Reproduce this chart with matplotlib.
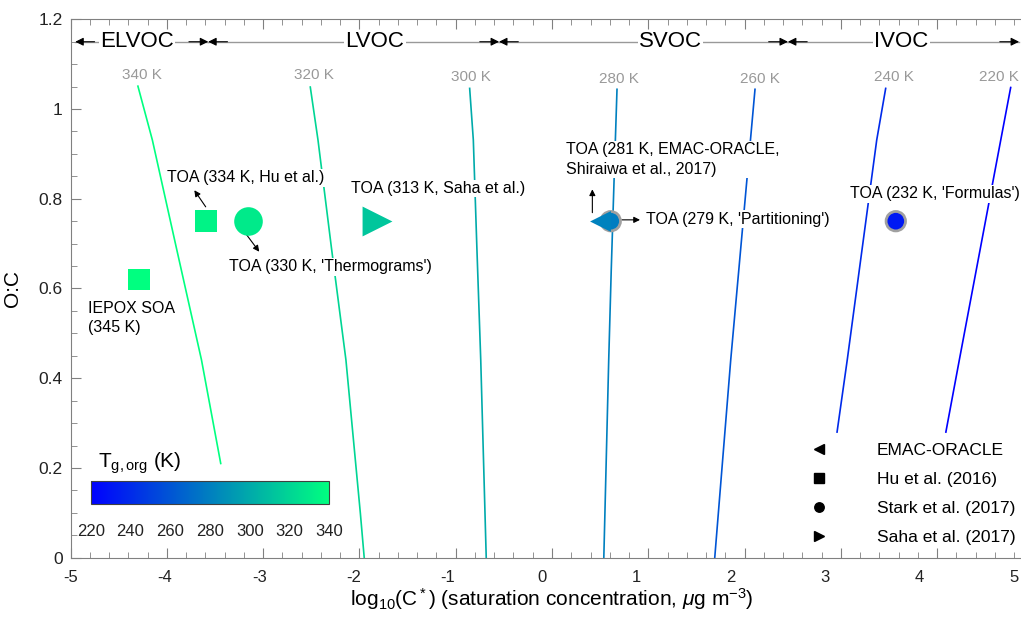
import matplotlib
matplotlib.use("Agg")
import matplotlib.pyplot as plt
import matplotlib.cm as cm
import matplotlib.colors as mcolors
from matplotlib.ticker import MultipleLocator
from matplotlib.lines import Line2D

plt.rcParams["font.family"] = ["Liberation Sans", "DejaVu Sans"]
plt.rcParams["mathtext.fontset"] = "custom"
plt.rcParams["mathtext.rm"] = "Liberation Sans"
plt.rcParams["mathtext.it"] = "Liberation Sans:italic"

# ── Data ──────────────────────────────────────────────────────────────────────

# glass-transition isotherms: (log10 C*, O:C) points
iso_temps = [340, 320, 300, 280, 260, 240, 220]
iso_x = [
    [-4.30, -4.15, -3.90, -3.64, -3.44],
    [-2.51, -2.43, -2.29, -2.14, -1.99, -1.95],
    [-0.855, -0.817, -0.78, -0.74, -0.683],
    [0.675, 0.644, 0.615, 0.589, 0.538],
    [2.108, 2.022, 1.856, 1.69],
    [3.465, 3.372, 3.066, 2.96],
    [4.763, 4.66, 4.23, 4.09],
]
iso_y = [
    [1.051, 0.931, 0.69, 0.441, 0.21],
    [1.049, 0.931, 0.69, 0.441, 0.099, 0.0],
    [1.046, 0.931, 0.69, 0.441, 0.0],
    [1.044, 0.838, 0.64, 0.441, 0.0],
    [1.044, 0.838, 0.441, 0.0],
    [1.046, 0.931, 0.441, 0.28],
    [1.048, 0.931, 0.441, 0.28],
]
iso_label_x = [-4.26, -2.47, -0.84, 0.696, 2.16, 3.55, 4.645]
iso_label_y = [1.076, 1.076, 1.071, 1.066, 1.066, 1.071, 1.071]

# volatility classes along the top
voc_names = ["ELVOC", "LVOC", "SVOC", "IVOC"]
voc_lo = [-4.95, -3.57, -0.55, 2.45]
voc_hi = [-3.57, -0.55, 2.45, 4.85]
voc_text_x = [-4.31, -1.84, 1.23, 3.63]
voc_y = 1.15

# TOA / SOA points: x, O:C, Tg (K)
sq_x, sq_y, sq_t = [-4.29, -3.59], [0.62, 0.75], [345, 334]          # Hu et al.
st_x, st_y, st_t = [-3.16], [0.75], [330]                            # Stark et al.
sa_x, sa_y, sa_t = [-1.82], [0.75], [313]                            # Saha et al.
em_x, em_y, em_t = [0.50], [0.75], [281]                             # EMAC-ORACLE
gr_x, gr_y, gr_t = [0.61, 3.57], [0.75, 0.75], [279, 232]            # this work

notes = [
    ("TOA (334 K, Hu et al.)", -4.0, 0.847),
    ("TOA (330 K, 'Thermograms')", -3.354, 0.648),
    ("TOA (313 K, Saha et al.)", -2.09, 0.823),
    ("TOA (281 K, EMAC-ORACLE,\nShiraiwa et al., 2017)", 0.145, 0.887),
    ("TOA (279 K, 'Partitioning')", 0.976, 0.754),
    ("TOA (232 K, 'Formulas')", 3.094, 0.811),
    ("IEPOX SOA\n(345 K)", -4.82, 0.534),
]
# arrows: (start x, start y) -> (end x, end y)
arrows = [
    (-3.596, 0.782, -3.714, 0.819),
    (-3.188, 0.7245, -3.04, 0.682),
    (0.419, 0.769, 0.419, 0.821),
    (0.724, 0.753, 0.914, 0.753),
]

cbar_ticks = [220, 240, 260, 280, 300, 320, 340]

# ── Figure ────────────────────────────────────────────────────────────────────

W, H = 1021, 621
fig = plt.figure(figsize=(W / 100, H / 100), dpi=100)
ax = fig.add_axes([70.5 / W, 63.3 / H, 963 / W, 538.4 / H])
cmap = plt.get_cmap("winter")
norm = mcolors.Normalize(vmin=220, vmax=340)

for T, xs, ys in zip(iso_temps, iso_x, iso_y):
    ax.plot(xs, ys, color=cmap(norm(T)), lw=1.2, zorder=1)
for T, lx, ly in zip(iso_temps, iso_label_x, iso_label_y):
    ax.text(lx, ly, f"{T} K", color="#999999", fontsize=11,
            ha="center", va="center", zorder=3)

for name, lo, hi, tx in zip(voc_names, voc_lo, voc_hi, voc_text_x):
    ax.plot([lo, hi], [voc_y, voc_y], color="#999999", lw=1, zorder=1)
    for tip, back in ((lo, lo + 0.2), (hi, hi - 0.2)):
        ax.annotate("", xy=(tip, voc_y), xytext=(back, voc_y),
                    arrowprops=dict(arrowstyle="-|>", color="black", lw=0.8,
                                    mutation_scale=12, shrinkA=0, shrinkB=0),
                    zorder=2)
    ax.text(tx, voc_y, name, fontsize=16, ha="center", va="center",
            bbox=dict(fc="white", ec="none", pad=1), zorder=3)

for text, tx, ty in notes:
    ax.text(tx, ty, text, fontsize=11.5, ha="left", va="center", linespacing=1.38,
            bbox=dict(fc="white", ec="none", pad=1), zorder=3)
for x0, y0, x1, y1 in arrows:
    ax.annotate("", xy=(x1, y1), xytext=(x0, y0),
                arrowprops=dict(arrowstyle="-|>", color="black", lw=0.8,
                                mutation_scale=9, shrinkA=0, shrinkB=0),
                zorder=4)

kw = dict(cmap=cmap, norm=norm, zorder=5)
ax.scatter(gr_x, gr_y, c=gr_t, marker="o", s=14 ** 2,
           edgecolors="#a0a0a0", linewidths=2, **kw)
ax.scatter(sq_x, sq_y, c=sq_t, marker="s", s=15.8 ** 2, linewidths=0, **kw)
ax.scatter(st_x, st_y, c=st_t, marker="o", s=20.6 ** 2, linewidths=0, **kw)
ax.scatter(sa_x, sa_y, c=sa_t, marker=">", s=21.5 ** 2, linewidths=0, **kw)
ax.scatter(em_x, em_y, c=em_t, marker="<", s=15 ** 2, linewidths=0, **kw)

ax.set_xlim(-5, 5)
ax.set_ylim(0, 1.2)
ax.xaxis.set_major_locator(MultipleLocator(1))
ax.xaxis.set_minor_locator(MultipleLocator(0.2))
ax.yaxis.set_major_locator(MultipleLocator(0.2))
ax.yaxis.set_minor_locator(MultipleLocator(0.05))
ax.yaxis.set_major_formatter(plt.FuncFormatter(lambda v, _: f"{v:g}"))
ax.tick_params(which="both", direction="in", top=True, right=True,
               color="#808080", labelcolor="#222222", labelsize=12.5)
ax.tick_params(which="major", length=7, pad=5.5)
ax.tick_params(which="minor", length=4)
ax.tick_params(axis="x", labelbottom=False)
for sp in ax.spines.values():
    sp.set_color("#808080")

ax.set_ylabel("O:C", fontsize=15)
ax.yaxis.set_label_coords(-0.0507, 0.5)
ax.set_xlabel(r"log$_{10}$(C$^*$) (saturation concentration, $\mu$g m$^{-3}$)",
              fontsize=15)
ax.xaxis.set_label_coords(0.5, -0.052)

# x tick labels sit on a slightly narrower scale than the ticks
lab = fig.add_axes([70.5 / W, 63.3 / H, 943.5 / W, 538.4 / H])
lab.patch.set_visible(False)
lab.set_xlim(-5, 5)
lab.xaxis.set_major_locator(MultipleLocator(1))
lab.xaxis.set_major_formatter(plt.FuncFormatter(lambda v, _: f"{v:g}"))
lab.set_yticks([])
lab.tick_params(axis="x", length=0, pad=9, labelsize=12, labelcolor="#222222")
for sp in lab.spines.values():
    sp.set_visible(False)

# legend
handles = [
    Line2D([], [], ls="none", marker="<", color="black", ms=7),
    Line2D([], [], ls="none", marker="s", color="black", ms=7.5),
    Line2D([], [], ls="none", marker="o", color="black", ms=6.8),
    Line2D([], [], ls="none", marker=">", color="black", ms=7),
]
labels = ["EMAC-ORACLE", "Hu et al. (2016)", "Stark et al. (2017)", "Saha et al. (2017)"]
ax.legend(handles, labels, frameon=False, fontsize=12.5, loc="upper left",
          bbox_to_anchor=(810.7 / W, 1 - 443 / H), bbox_transform=fig.transFigure,
          handlelength=1.0, handletextpad=2.8, labelspacing=0.8,
          borderpad=0, borderaxespad=0)

# inset colour bar
cax = fig.add_axes([90.7 / W, (H - 504.3) / H, 238.6 / W, 23.3 / H])
cb = fig.colorbar(cm.ScalarMappable(norm=norm, cmap=cmap), cax=cax,
                  orientation="horizontal", ticks=cbar_ticks)
cb.outline.set_edgecolor("#404040")
cb.outline.set_linewidth(0.8)
cax.tick_params(length=0, labelsize=12, pad=14, labelcolor="#222222")
cax.text(0.03, 1.2, r"T$_{\rm g,org}$ (K)", transform=cax.transAxes,
         fontsize=15, ha="left", va="bottom")

fig.savefig("out.png", dpi=100)
